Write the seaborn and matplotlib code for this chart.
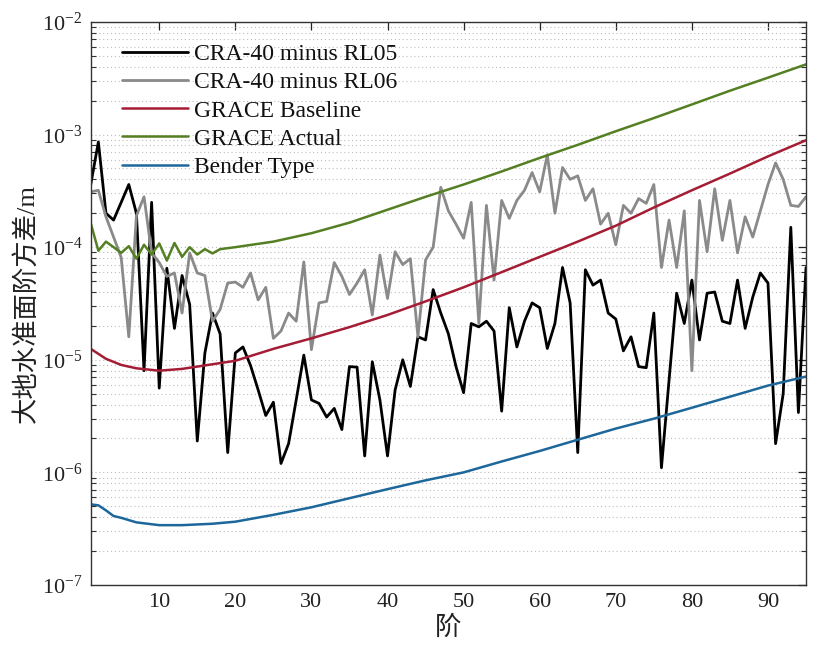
import numpy as np
import pandas as pd
import matplotlib
matplotlib.use("Agg")
import matplotlib.pyplot as plt
import seaborn as sns
from matplotlib.ticker import LogLocator, NullFormatter, FixedLocator

# ---------------- data ----------------
degrees = list(range(1, 96))

rl05 = [3.6e-4, 8.6e-4, 2.0e-4, 1.74e-4, 2.5e-4, 3.6e-4, 2.0e-4, 8.0e-6, 2.5e-4, 5.6e-6,
        6.5e-5, 1.9e-5, 5.6e-5, 3.1e-5, 1.9e-6, 1.15e-5, 2.6e-5, 1.7e-5, 1.5e-6, 1.15e-5,
        1.3e-5, 8.9e-6, 5.4e-6, 3.2e-6, 4.2e-6, 1.2e-6, 1.8e-6, 4.4e-6, 1.1e-5, 4.4e-6,
        4.1e-6, 3.1e-6, 3.7e-6, 2.4e-6, 8.7e-6, 8.6e-6, 1.4e-6, 9.6e-6, 4.4e-6, 1.4e-6,
        5.4e-6, 1.0e-5, 5.8e-6, 1.6e-5, 1.5e-5, 4.2e-5, 2.6e-5, 1.7e-5, 8.7e-6, 5.1e-6,
        2.1e-5, 1.96e-5, 2.2e-5, 1.8e-5, 3.5e-6, 2.9e-5, 1.3e-5, 2.2e-5, 3.2e-5, 2.9e-5,
        1.26e-5, 2.1e-5, 6.6e-5, 3.2e-5, 1.5e-6, 6.3e-5, 4.6e-5, 5.1e-5, 2.6e-5, 2.3e-5,
        1.2e-5, 1.6e-5, 8.7e-6, 8.5e-6, 2.6e-5, 1.1e-6, 6.6e-6, 3.9e-5, 2.1e-5, 5.1e-5,
        1.5e-5, 3.9e-5, 4.0e-5, 2.2e-5, 2.1e-5, 5.1e-5, 1.9e-5, 3.6e-5, 5.9e-5, 4.8e-5,
        1.8e-6, 5.0e-6, 1.5e-4, 3.4e-6, 6.6e-5]

rl06 = [3.1e-4, 3.2e-4, 1.86e-4, 1.23e-4, 8.1e-5, 1.6e-5, 1.9e-4, 2.8e-4, 8.9e-5, 7.3e-5,
        5.5e-5, 5.9e-5, 2.6e-5, 8.9e-5, 5.9e-5, 5.6e-5, 2.2e-5, 2.8e-5, 4.8e-5, 4.9e-5,
        4.4e-5, 5.9e-5, 3.4e-5, 4.4e-5, 1.55e-5, 1.8e-5, 2.6e-5, 2.2e-5, 7.4e-5, 1.23e-5,
        3.2e-5, 3.3e-5, 7.3e-5, 5.5e-5, 3.8e-5, 4.8e-5, 6.3e-5, 2.5e-5, 8.5e-5, 3.5e-5,
        9.1e-5, 7.0e-5, 7.9e-5, 1.6e-5, 7.7e-5, 1.0e-4, 3.4e-4, 2.1e-4, 1.6e-4, 1.2e-4,
        2.5e-4, 2.1e-5, 2.35e-4, 5.1e-5, 2.6e-4, 1.8e-4, 2.6e-4, 3.2e-4, 4.6e-4, 3.1e-4,
        6.6e-4, 2.0e-4, 5.1e-4, 4.0e-4, 4.3e-4, 2.6e-4, 3.3e-4, 1.6e-4, 2.0e-4, 1.05e-4,
        2.35e-4, 2.0e-4, 2.7e-4, 2.45e-4, 3.6e-4, 6.6e-5, 1.74e-4, 6.6e-5, 2.1e-4, 8.0e-6,
        2.6e-4, 9.1e-5, 3.3e-4, 1.15e-4, 2.6e-4, 8.9e-5, 1.86e-4, 1.23e-4, 2.1e-4, 3.6e-4,
        5.6e-4, 4.0e-4, 2.35e-4, 2.3e-4, 2.8e-4]

actual_deg = list(range(1, 21)) + [25, 30, 35, 40, 45, 50, 55, 60, 65, 70, 75, 80, 85, 90, 95]
actual = [1.63e-4, 9.3e-5, 1.12e-4, 1.0e-4, 8.9e-5, 1.02e-4, 7.9e-5, 1.05e-4, 8.6e-5, 1.08e-4,
          7.6e-5, 1.09e-4, 8.2e-5, 1.0e-4, 8.6e-5, 9.6e-5, 8.8e-5, 9.6e-5, 9.8e-5, 1.0e-4,
          1.12e-4, 1.33e-4, 1.65e-4, 2.15e-4, 2.8e-4, 3.6e-4, 4.7e-4, 6.2e-4, 8.1e-4, 1.07e-3,
          1.4e-3, 1.85e-3, 2.45e-3, 3.2e-3, 4.2e-3]

baseline_deg = [1, 3, 5, 7, 10, 13, 15, 20, 25, 30, 35, 40, 45, 50, 55, 60, 65, 70, 75, 80, 85, 90, 95]
baseline = [1.25e-5, 1.02e-5, 9.0e-6, 8.4e-6, 8.0e-6, 8.3e-6, 8.7e-6, 9.8e-6, 1.25e-5, 1.55e-5,
            1.95e-5, 2.5e-5, 3.3e-5, 4.4e-5, 6.0e-5, 8.2e-5, 1.12e-4, 1.55e-4, 2.25e-4, 3.2e-4,
            4.5e-4, 6.4e-4, 8.9e-4]

bender_deg = [1, 2, 3, 4, 5, 7, 10, 13, 17, 20, 25, 30, 35, 40, 45, 50, 55, 60, 65, 70, 75, 80, 85, 90, 95]
bender = [5.2e-7, 5.1e-7, 4.6e-7, 4.1e-7, 3.95e-7, 3.6e-7, 3.4e-7, 3.4e-7, 3.5e-7, 3.65e-7,
          4.2e-7, 4.9e-7, 5.9e-7, 7.1e-7, 8.5e-7, 1.0e-6, 1.25e-6, 1.55e-6, 1.95e-6, 2.45e-6,
          3.0e-6, 3.75e-6, 4.7e-6, 5.9e-6, 7.1e-6]

labels = ["CRA-40 minus RL05", "CRA-40 minus RL06", "GRACE Baseline", "GRACE Actual", "Bender Type"]
xticks = [10, 20, 30, 40, 50, 60, 70, 80, 90]
xlabel = "阶"
ylabel = "大地水准面阶方差/m"

# ---------------- style ----------------
sns.set_theme(style="white")
plt.rcParams["font.family"] = ["Liberation Serif", "Noto Sans CJK SC", "DejaVu Sans"]
plt.rcParams["mathtext.fontset"] = "custom"
plt.rcParams["mathtext.rm"] = "Liberation Serif"
plt.rcParams["mathtext.it"] = "Liberation Serif:italic"
plt.rcParams["axes.unicode_minus"] = False

fig = plt.figure(figsize=(8.25, 6.45), dpi=100)
ax = fig.add_axes([0.110, 0.093, 0.867, 0.873])

series = [
    (degrees, rl05, "#000000", 2.0),
    (degrees, rl06, "#8a8a8a", 2.0),
    (baseline_deg, baseline, "#a51d35", 1.8),
    (actual_deg, actual, "#557f23", 1.8),
    (bender_deg, bender, "#1d679b", 1.8),
]
for (xs, ys, col, lw), lab in zip(series, labels):
    df = pd.DataFrame({"deg": xs, "val": ys})
    sns.lineplot(data=df, x="deg", y="val", ax=ax, color=col, linewidth=lw,
                 label=lab, estimator=None, sort=False)

ax.set_yscale("log")
ax.set_xlim(1, 95)
ax.set_ylim(1e-7, 1e-2)
ax.xaxis.set_major_locator(FixedLocator(xticks))
ax.yaxis.set_major_locator(LogLocator(base=10, numticks=10))
ax.yaxis.set_minor_locator(LogLocator(base=10, subs=np.arange(2, 10), numticks=20))
ax.yaxis.set_minor_formatter(NullFormatter())

ax.yaxis.grid(True, which="both", linestyle=(0, (1, 2.5)), color="#bdbdbd", linewidth=0.8)
ax.xaxis.grid(False)

for sp in ax.spines.values():
    sp.set_color("#333333")
    sp.set_linewidth(1.0)

ax.tick_params(axis="both", which="major", direction="in", length=6, width=0.9,
               top=True, right=True, labelsize=16, colors="#222222", pad=6)
ax.tick_params(axis="y", which="minor", direction="in", length=3.5, width=0.8,
               left=True, right=True, colors="#333333")
ax.tick_params(axis="x", which="minor", bottom=False, top=False)

ax.set_xlabel(xlabel, fontsize=19, labelpad=2, color="#222222")
ax.set_ylabel(ylabel, fontsize=19, labelpad=2, color="#222222")

leg = ax.legend(loc="upper left", bbox_to_anchor=(0.03, 0.978), frameon=False,
                fontsize=17, handlelength=2.8, handletextpad=0.25, labelspacing=0.28,
                borderaxespad=0.0)
for t in leg.get_texts():
    t.set_color("#111111")

fig.savefig("out.png", dpi=100)
